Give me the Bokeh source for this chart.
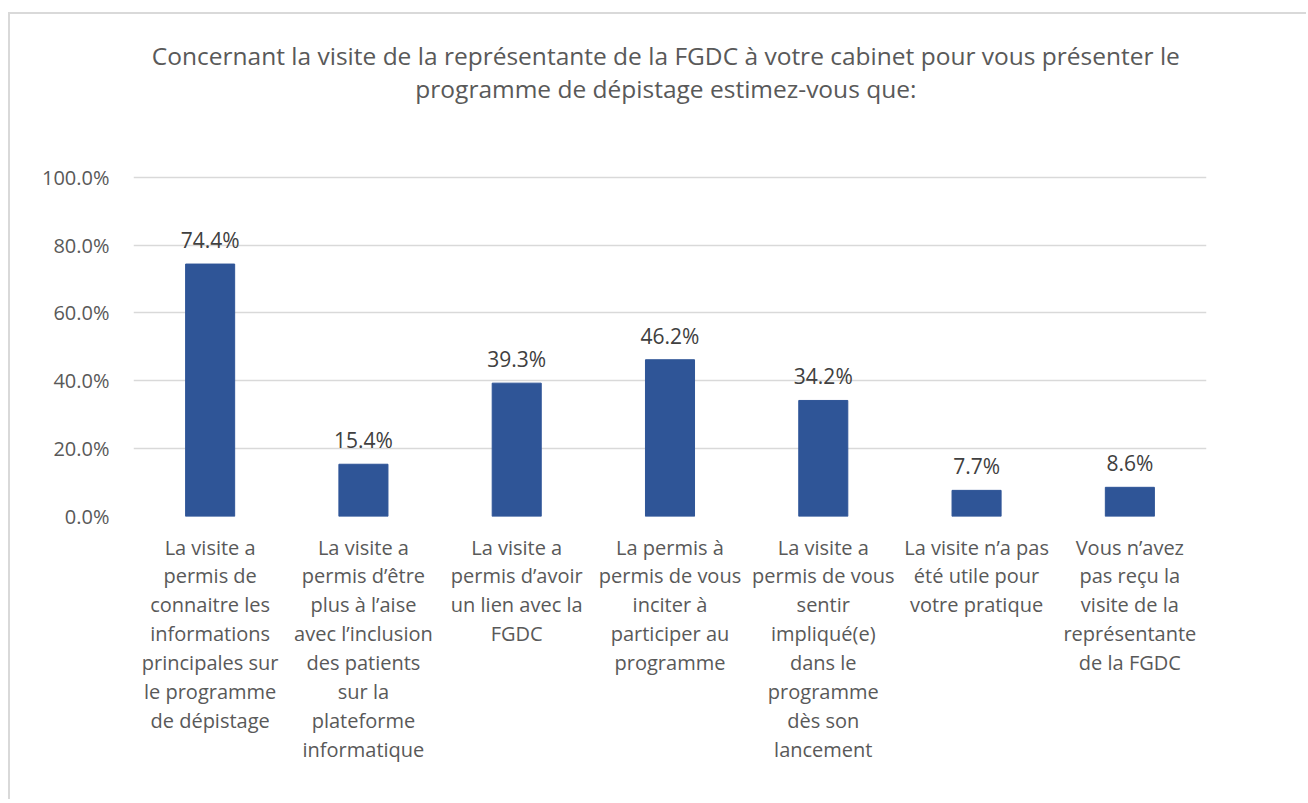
from bokeh.plotting import figure
from bokeh.layouts import column
from bokeh.models import FactorRange, Range1d, PrintfTickFormatter, ColumnDataSource, FixedTicker
from bokeh.core.properties import value
from bokeh.embed import file_html
from bokeh.resources import INLINE

# ---- data ----
categories = [
    "La visite a\npermis de\nconnaitre les\ninformations\nprincipales sur\nle programme\nde dépistage",
    "La visite a\npermis d’être\nplus à l’aise\navec l’inclusion\ndes patients\nsur la\nplateforme\ninformatique",
    "La visite a\npermis d’avoir\nun lien avec la\nFGDC",
    "La permis à\npermis de vous\ninciter à\nparticiper au\nprogramme",
    "La visite a\npermis de vous\nsentir\nimpliqué(e)\ndans le\nprogramme\ndès son\nlancement",
    "La visite n’a pas\nété utile pour\nvotre pratique",
    "Vous n’avez\npas reçu la\nvisite de la\nreprésentante\nde la FGDC",
]
values = [74.4, 15.4, 39.3, 46.2, 34.2, 7.7, 8.6]
value_labels = ["74.4%", "15.4%", "39.3%", "46.2%", "34.2%", "7.7%", "8.6%"]
y_ticks = [0, 20, 40, 60, 80, 100]
title_lines = ["Concernant la visite de la représentante de la FGDC à votre cabinet pour vous présenter le",
               "programme de dépistage estimez-vous que:"]

FONT = "Open Sans"
GRAY = "#595959"
W = 1296
TITLE_H = 133

# ---- title strip (its own small canvas so both lines are centred) ----
tf = figure(width=W, height=TITLE_H, x_range=Range1d(0, W), y_range=Range1d(0, TITLE_H),
            x_axis_type=None, y_axis_type=None, min_border=0,
            output_backend="svg", toolbar_location=None)
tf.outline_line_color = None
tf.xgrid.grid_line_color = None
tf.ygrid.grid_line_color = None
tf.text(x=[643, 643], y=[TITLE_H - 41, TITLE_H - 74], text=title_lines,
        text_align="center", text_baseline="middle", text_font=value(FONT),
        text_font_size="24.5px", text_color=GRAY)

# ---- main chart ----
src = ColumnDataSource(dict(cat=categories, val=values, lbl=value_labels))

p = figure(
    x_range=FactorRange(*categories),
    y_range=Range1d(0, 100.5),
    width=W, height=785 - TITLE_H,
    min_border_left=123, min_border_right=100,
    min_border_top=28, min_border_bottom=283,
    output_backend="svg", toolbar_location=None,
)
p.outline_line_color = None
p.background_fill_color = "white"
p.border_fill_color = "white"

p.vbar(x="cat", top="val", width=0.32, source=src, fill_color="#2F5597", line_color="#2F5597")
p.text(x="cat", y="val", text="lbl", source=src, text_align="center", text_baseline="bottom",
       y_offset=-10, text_font=value(FONT), text_font_size="21px", text_color="#404040")

p.xgrid.grid_line_color = None
p.ygrid.grid_line_color = "#d9d9d9"
p.ygrid.grid_line_width = 1.5

p.yaxis.ticker = FixedTicker(ticks=y_ticks)
p.yaxis.formatter = PrintfTickFormatter(format="%.1f%%")
p.yaxis.axis_line_color = None
p.yaxis.major_tick_line_color = None
p.yaxis.minor_tick_line_color = None
p.yaxis.major_label_standoff = 18
p.yaxis.major_label_text_font = FONT
p.yaxis.major_label_text_font_size = "20px"
p.yaxis.major_label_text_color = GRAY

p.xaxis.axis_line_color = None
p.xaxis.major_tick_line_color = None
p.xaxis.minor_tick_line_color = None
p.xaxis.major_label_standoff = 11
p.xaxis.major_label_text_font = FONT
p.xaxis.major_label_text_font_size = "20px"
p.xaxis.major_label_text_color = GRAY
p.xaxis.major_label_text_line_height = 1.07

layout = column(tf, p, spacing=0)
layout.styles = {"border-left": "2px solid #d9d9d9", "border-top": "2px solid #d9d9d9",
                 "margin-top": "12px", "margin-left": "8px"}

open("out.html", "w").write(file_html(layout, INLINE))
